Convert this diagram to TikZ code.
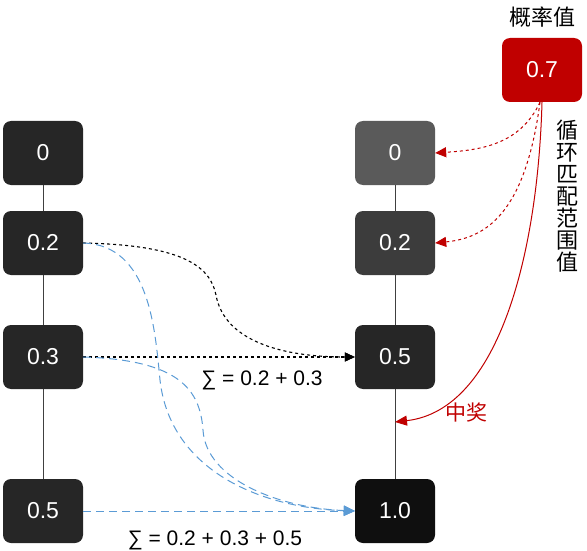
\documentclass[tikz,border=0pt]{standalone}
\usepackage{fontspec}
\setmainfont{Liberation Sans}
\newfontfamily\cjk{Noto Sans CJK SC}
\usetikzlibrary{arrows.meta}
\definecolor{redbox}{HTML}{C00000}
\definecolor{bluel}{HTML}{5B9BD5}
\begin{document}
\begin{tikzpicture}[x=1pt,y=-1pt,
  box/.style={rounded corners=8pt, minimum width=80pt, minimum height=64pt, text=white, font=\fontsize{23}{26}\selectfont, inner sep=0pt},
  link/.style={draw=black!75, line width=1pt},
  blk/.style={dashed, line width=1.1pt, -{Triangle[length=10pt,width=9pt]}},
  blu/.style={bluel, dash pattern=on 8pt off 5pt, line width=1pt, -{Triangle[length=11pt,width=10pt]}},
  redd/.style={redbox, dashed, line width=1pt, -{Triangle[length=11pt,width=10pt]}},
  lbl/.style={font=\fontsize{21}{24}\selectfont}]
\useasboundingbox (0,0) rectangle (587,551);
% left column
\node[box, fill={rgb,255:red,38;green,38;blue,38}] (l0) at (43,153) {0};
\node[box, fill={rgb,255:red,38;green,38;blue,38}] (l02) at (43,243) {0.2};
\node[box, fill={rgb,255:red,38;green,38;blue,38}] (l03) at (43,357) {0.3};
\node[box, fill={rgb,255:red,38;green,38;blue,38}] (l05) at (43,511) {0.5};
\draw[link] (l0) -- (l02);
\draw[link] (l02) -- (l03);
\draw[link] (l03) -- (l05);
% right column
\node[box, fill={rgb,255:red,90;green,90;blue,90}] (r0) at (395,153) {0};
\node[box, fill={rgb,255:red,60;green,60;blue,60}] (r02) at (395,243) {0.2};
\node[box, fill={rgb,255:red,38;green,38;blue,38}] (r05) at (395,357) {0.5};
\node[box, fill={rgb,255:red,15;green,15;blue,15}] (r10) at (395,511) {1.0};
\draw[link] (r0) -- (r02);
\draw[link] (r02) -- (r05);
\draw[link] (r05) -- (r10);
\coordinate (hit) at (395,422);
% probability
\node[box, fill=redbox] (p) at (542,70) {0.7};
\node[font=\cjk\fontsize{22}{24}\selectfont] (ptitle) at (542,17) {概率值};
\node[font=\cjk\fontsize{22}{22}\selectfont, align=center, inner sep=0pt] (loop) at (567,196) {循\\环\\匹\\配\\范\\围\\值};
\node[font=\cjk\fontsize{21}{24}\selectfont, text=redbox] (win) at (466,412) {中奖};
% red connectors
\draw[redd] ([xshift=-2pt]p.south) .. controls (520,145) and (480,150) .. (r0.east);
\draw[redd] ([xshift=-2pt]p.south) .. controls (525,215) and (485,238) .. (r02.east);
\draw[redbox, line width=1pt, -{Triangle[length=12pt,width=10pt]}] (p.south) .. controls (538,250) and (500,410) .. (hit);
% black dashed
\draw[blk] (l02.east) .. controls (180,245) and (210,265) .. (216,295) .. controls (224,340) and (280,357) .. (r05.west);
\draw[blk] (l03.east) -- (r05.west);
\node[lbl] (s1) at (262,380) {∑ = 0.2 + 0.3};
% blue dashed
\draw[blu] (l02.east) .. controls (150,245) and (155,330) .. (160,380) .. controls (170,470) and (260,508) .. (r10.west);
\draw[blu] (l03.east) .. controls (180,360) and (200,390) .. (203,430) .. controls (206,480) and (280,508) .. (r10.west);
\draw[blu] (l05.east) -- (r10.west);
\node[lbl] (s2) at (215,540) {∑ = 0.2 + 0.3 + 0.5};
\end{tikzpicture}
\end{document}
